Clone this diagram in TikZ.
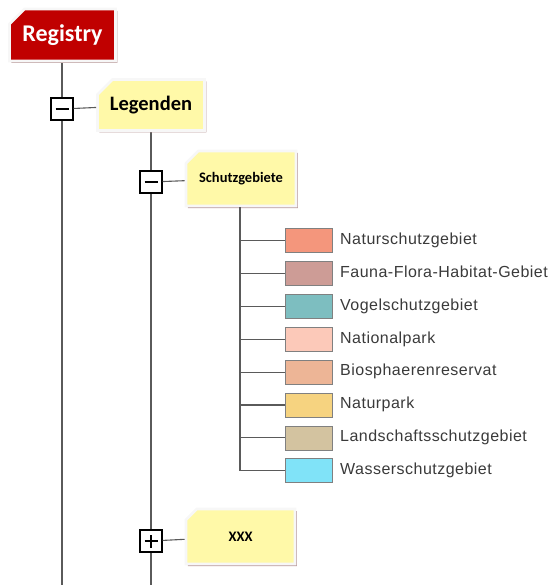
\documentclass[tikz,border=0pt]{standalone}
\usepackage{fontspec}
\setmainfont{Liberation Sans}
\newfontfamily\boxfont{Carlito}
\newfontfamily\entryfont[LetterSpace=3]{Liberation Sans}
\usetikzlibrary{shapes.misc,shadows,positioning}

\definecolor{regred}{HTML}{C00000}
\definecolor{noteyellow}{HTML}{FFF9A8}
\definecolor{shadowbrown}{HTML}{B89A9A}
\definecolor{treegray}{HTML}{5A5A5A}
\definecolor{labelgray}{HTML}{3A3A3A}
\definecolor{cNSG}{HTML}{F4967C}
\definecolor{cFFH}{HTML}{CD9C96}
\definecolor{cVSG}{HTML}{7DBEC0}
\definecolor{cNP}{HTML}{FCC9B9}
\definecolor{cBR}{HTML}{EDB596}
\definecolor{cNAP}{HTML}{F6D380}
\definecolor{cLSG}{HTML}{D3C3A0}
\definecolor{cWSG}{HTML}{80E3F8}

\begin{document}
\begin{tikzpicture}
	[x=1pt, y=-1pt,
	every node/.style={font=\boxfont\bfseries},
	note/.style = {chamfered rectangle, chamfered rectangle corners=north west,
		chamfered rectangle xsep=9pt, chamfered rectangle ysep=6pt,
		draw=white!94!gray, line width=2.6pt, inner sep=0pt,
		drop shadow={shadow xshift=1.8pt, shadow yshift=-2pt, fill=shadowbrown, opacity=1}},
	toggle/.style = {draw=black, line width=1.3pt, fill=white, minimum size=22pt, inner sep=0pt},
	swatch/.style = {draw=gray, line width=0.7pt, minimum width=47pt, minimum height=24pt, inner sep=0pt},
	entry/.style = {font=\entryfont\fontsize{16}{19}\selectfont, text=labelgray, anchor=west, inner sep=0pt},
	tree/.style = {draw=treegray, line width=1.1pt}
	]
	\useasboundingbox (0,0) rectangle (551,585);

	% end points of the vertical lines
	\coordinate (end1) at (62,585);
	\coordinate (end2) at (151,585);

	% tree lines first, the boxes lie on top
	\draw[tree] (62,62) -- (end1);
	\draw[tree] (151,132) -- (end2);

	\node[note, fill=regred, text=white, minimum width=106pt, minimum height=52pt,
		font=\boxfont\bfseries\fontsize{24}{27}\selectfont] (reg) at (62.5,35) {Registry};

	\node[toggle] (tog1) at (62,109) {};
	\draw[line width=1.7pt] ([xshift=-6.5pt]tog1.center) -- ([xshift=6.5pt]tog1.center);
	\node[note, fill=noteyellow, minimum width=107pt, minimum height=51pt,
		font=\boxfont\bfseries\fontsize{20.5}{23}\selectfont] (leg) at (151,105) {Legenden};
	\draw[tree] (tog1) -- (leg);

	\node[toggle] (tog2) at (151,182) {};
	\draw[line width=1.7pt] ([xshift=-6.5pt]tog2.center) -- ([xshift=6.5pt]tog2.center);
	\node[note, fill=noteyellow, minimum width=110pt, minimum height=55pt,
		font=\boxfont\bfseries\fontsize{14.5}{17}\selectfont] (sg) at (241,178.5) {Schutzgebiete};
	\draw[tree] (tog2) -- (sg);

	\node[toggle] (tog3) at (151,541) {};
	\draw[line width=1.7pt] ([xshift=-6.5pt]tog3.center) -- ([xshift=6.5pt]tog3.center);
	\draw[line width=1.7pt] ([yshift=-6.5pt]tog3.center) -- ([yshift=6.5pt]tog3.center);
	\node[note, fill=noteyellow, minimum width=109pt, minimum height=55pt,
		font=\boxfont\bfseries\fontsize{14.5}{17}\selectfont] (xxx) at (240.5,536.5) {XXX};
	\draw[tree] (tog3) -- (xxx);

	% legend entries
	\coordinate (lastbranch) at (240,470.5);
	\draw[tree] (sg.south -| lastbranch) -- (lastbranch);
	\foreach \i/\col/\name in {0/cNSG/Naturschutzgebiet, 1/cFFH/Fauna-Flora-Habitat-Gebiet,
		2/cVSG/Vogelschutzgebiet, 3/cNP/Nationalpark, 4/cBR/Biosphaerenreservat,
		5/cNAP/Naturpark, 6/cLSG/Landschaftsschutzgebiet, 7/cWSG/Wasserschutzgebiet}
	{
		\node[swatch, fill=\col] (sw\i) at (309,240.5+\i*32.9) {};
		\node[entry] (lb\i) at (340,240.5+\i*32.9) {\strut\name};
		\draw[tree] (sw\i.west -| lastbranch) -- (sw\i.west);
	}
\end{tikzpicture}
\end{document}
